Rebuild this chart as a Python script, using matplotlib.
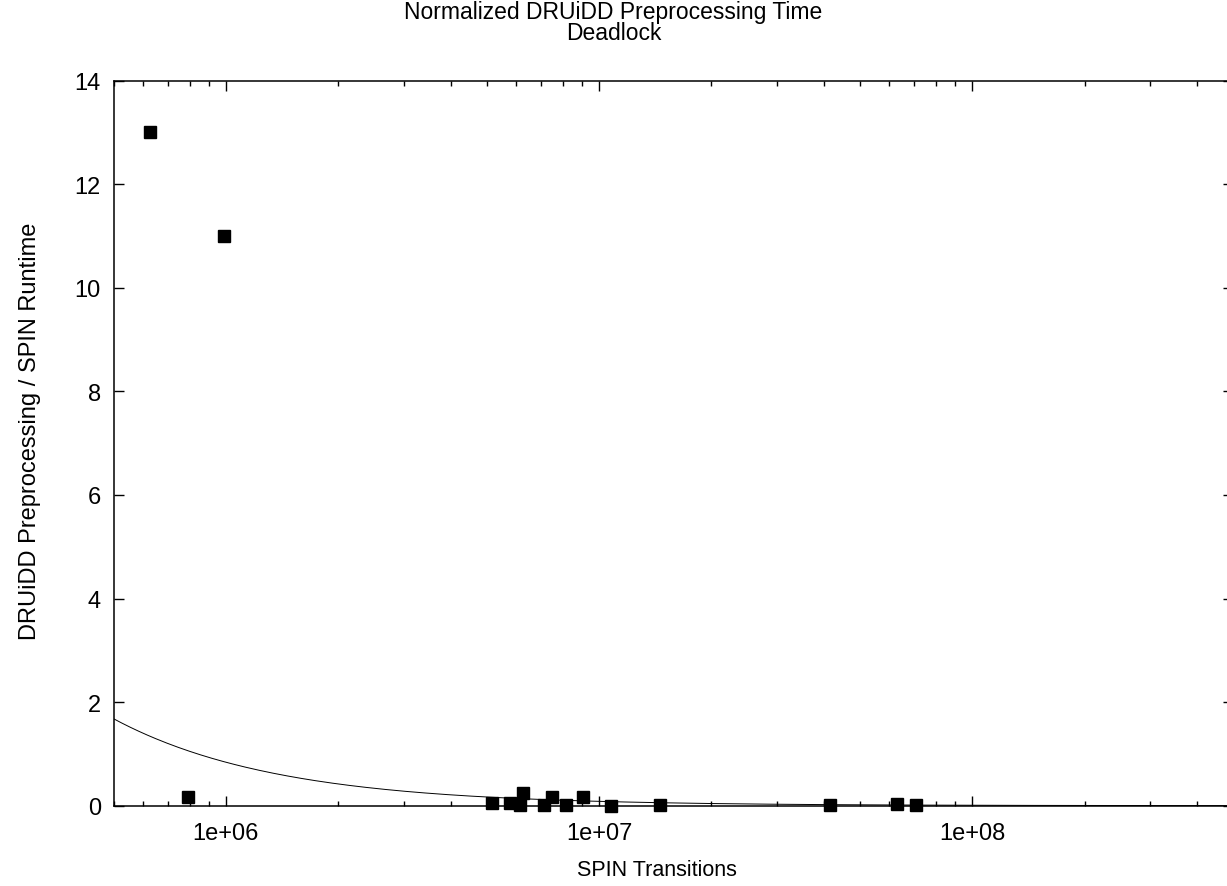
import matplotlib
matplotlib.use("Agg")
import matplotlib.pyplot as plt
import numpy as np

plt.rcParams['font.family'] = ['Liberation Sans', 'DejaVu Sans']

# SPIN transitions vs. normalized preprocessing time
transitions = [6.27e5, 9.9e5, 7.9e5, 5.18e6, 5.77e6, 6.14e6, 6.26e6, 7.11e6,
               7.48e6, 8.14e6, 9.06e6, 1.08e7, 1.46e7, 4.16e7, 6.3e7, 7.06e7]
ratio = [13.0, 11.0, 0.16, 0.05, 0.05, 0.02, 0.24, 0.02,
         0.16, 0.02, 0.16, 0.0, 0.01, 0.01, 0.03, 0.01]

# fitted curve f(x) = a * x**b
fit_a = 8.4e5
fit_b = -1.0

xmin, xmax = 5e5, 5e8
ymin, ymax = 0, 14

fig = plt.figure(figsize=(12.27, 8.87), dpi=100)
ax = fig.add_axes([113.5 / 1227, 1 - 806.7 / 887, (1233 - 113.5) / 1227, (806.7 - 81.7) / 887])

xs = np.logspace(np.log10(xmin), np.log10(xmax), 400)
ax.plot(xs, fit_a * xs ** fit_b, color='black', lw=0.7)
ax.plot(transitions, ratio, 's', color='black', ms=8, clip_on=False)

ax.set_xscale('log')
ax.set_xlim(xmin, xmax)
ax.set_ylim(ymin, ymax)
ax.set_yticks(range(0, 15, 2))
ax.set_xticks([1e6, 1e7, 1e8])
ax.set_xticklabels(['1e+06', '1e+07', '1e+08'])
ax.xaxis.set_minor_locator(matplotlib.ticker.LogLocator(base=10, subs=np.arange(2, 10)))
ax.xaxis.set_minor_formatter(matplotlib.ticker.NullFormatter())

for s in ax.spines.values():
    s.set_linewidth(1.1)
ax.tick_params(which='both', direction='in', top=True, right=True, labelsize=17, width=1.0)
ax.tick_params(which='major', length=7.5)
ax.tick_params(which='minor', length=3.8)
ax.tick_params(axis='y', pad=9)
ax.tick_params(axis='x', pad=12)

fig.text(0.5, 1 - 23 / 887, 'Normalized DRUiDD Preprocessing Time\nDeadlock',
         ha='center', va='center', fontsize=16.5, linespacing=0.93)
fig.text(657 / 1227, 1 - 871 / 887, 'SPIN Transitions', ha='center', va='center', fontsize=15.5)
fig.text(30 / 1227, 1 - 431 / 887, 'DRUiDD Preprocessing / SPIN Runtime', ha='center', va='center',
         rotation=90, fontsize=17)

fig.savefig('out.png', dpi=100)
